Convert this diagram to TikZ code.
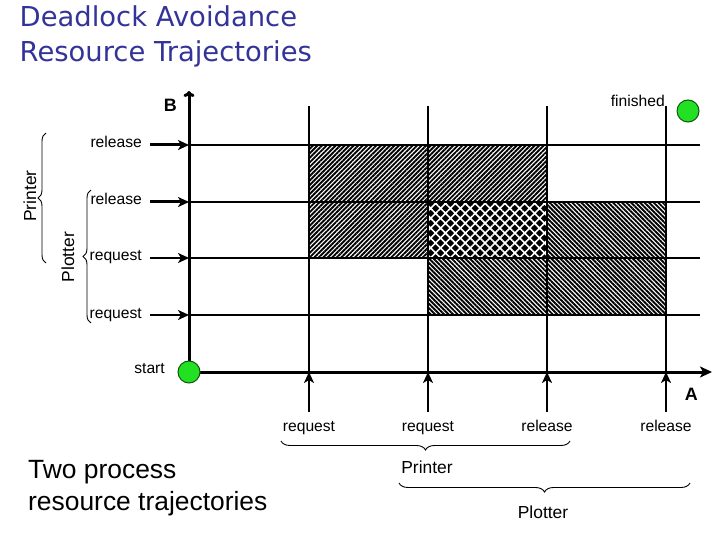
\documentclass[tikz,border=0pt]{standalone}
\usepackage{fontspec}
\setmainfont{Liberation Sans}
\newfontfamily\titlefont{DejaVu Sans}
\usepackage{xcolor}
\definecolor{titleblue}{HTML}{333399}
\definecolor{dotgreen}{HTML}{22E022}
\definecolor{dotrim}{HTML}{115511}
\usetikzlibrary{arrows.meta,patterns.meta,decorations.pathreplacing}

\begin{document}
\begin{tikzpicture}[x=1bp,y=-1bp,
  lbl/.style={font=\fontsize{15.7}{18}\selectfont,inner sep=0pt},
  bigl/.style={font=\fontsize{17.5}{20}\selectfont,inner sep=0pt},
  axisname/.style={font=\fontsize{18}{20}\selectfont\bfseries,inner sep=0pt},
  gridline/.style={line width=1.3bp},
  axis/.style={line width=3bp},
  pointer/.style={-{Stealth[length=11bp,width=10bp,inset=3bp]}},
  dot/.style={circle,fill=dotgreen,draw=dotrim,line width=1bp,minimum size=22bp,inner sep=0pt},
  curly/.style={decorate,decoration={brace,amplitude=8bp},line width=0.9bp},
  printerzone/.style={pattern={Lines[angle=45,distance=3.2bp,line width=1.9bp]}},
  plotterzone/.style={pattern={Lines[angle=-45,distance=3.2bp,line width=1.9bp]}},
  bothzone/.style={pattern={Hatch[angle=45,distance=7bp,line width=1.6bp]},pattern color=white}]
  \useasboundingbox (0,0) rectangle (720,540);

  % titles
  \node[anchor=base west,inner sep=0pt,align=left,text=titleblue,
    font=\titlefont\fontsize{27.5}{36}\selectfont] (title) at (19.5,62)
    {Deadlock Avoidance\\Resource Trajectories};
  \node[anchor=base west,inner sep=0pt,align=left,
    font=\fontsize{26.5}{32}\selectfont] (caption) at (28,510)
    {Two process\\resource trajectories};

  % forbidden zones
  \fill[printerzone] (309,145) rectangle (547,258);
  \fill[plotterzone] (428,202) rectangle (666,315);
  \fill[black] (428,202) rectangle (547,258);
  \fill[bothzone] (428,202) rectangle (547,258);

  % axes and grid
  \coordinate (O) at (189,372);
  \coordinate (Btop) at (189,91);
  \coordinate (Aend) at (712,372);
  \foreach \x [count=\i] in {309,428,547,666} {
    \coordinate (a\i) at (\x,372);
    \draw[gridline] (\x,106) -- (a\i);
  }
  \foreach \y [count=\i] in {145,202,258,315} {
    \coordinate (b\i) at (189,\y);
    \draw[gridline] (b\i) -- (700,\y);
  }
  \draw[axis,-{To[length=6bp,width=11bp]}] (O) -- (Btop);
  \draw[axis,-{Stealth[length=12bp,width=11bp,inset=3bp]}] (O) -- (Aend);
  \node[axisname,anchor=base east] (B) at (177,112) {B};
  \node[axisname,anchor=base east] (A) at (698,400) {A};

  % process B events
  \foreach \y/\t/\w [count=\i] in {148/release/3bp,205/release/3bp,261/request/1.8bp,318/request/1.8bp} {
    \node[lbl,anchor=base east] (bl\i) at (142,\y) {\t};
    \draw[pointer,line width=\w] (b\i -| bl\i.east) ++(8,0) -- (b\i);
  }

  % process A events
  \foreach \x/\t [count=\i] in {309/request,428/request,547/release,666/release} {
    \node[lbl,anchor=base] (al\i) at (\x,431) {\t};
    \draw[pointer,line width=2bp] (\x,412) -- (a\i);
  }

  % start and finish
  \node[dot] (start) at (O) {};
  \node[lbl,anchor=base east] (startlbl) at (165,373) {start};
  \node[dot] (finish) at (688,111) {};
  \node[lbl,anchor=base east] (finishlbl) at (665,107) {finished};

  % braces on B
  \draw[curly] (46,263) -- (46,133) node[midway] (pbrace) {};
  \node[bigl,rotate=90] (printerB) at (30,196) {Printer};
  \draw[curly] (91,323) -- (91,190) node[midway] (qbrace) {};
  \node[bigl,rotate=90] (plotterB) at (68,257) {Plotter};

  % braces on A
  \draw[curly,decoration={amplitude=9bp}] (570,441) -- (281,441);
  \node[bigl] (printerA) at (427,467) {Printer};
  \draw[curly,decoration={amplitude=9bp}] (690,483) -- (399,483);
  \node[bigl] (plotterA) at (543,512) {Plotter};
\end{tikzpicture}
\end{document}
